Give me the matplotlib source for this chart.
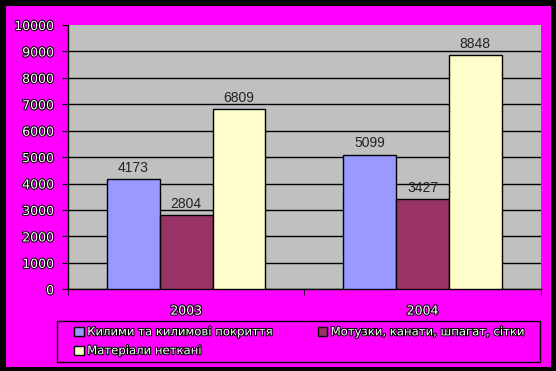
import numpy as np
import matplotlib
matplotlib.use("Agg")
import matplotlib.pyplot as plt
import matplotlib.patheffects as pe
from matplotlib.patches import Rectangle

years = ["2003", "2004"]
series_names = ["Килими та килимов\u0456 покриття", "Мотузки, канати, шпагат, с\u0456тки",
                "Матер\u0456али неткан\u0456"]
carpets = [4173, 5099]
ropes = [2804, 3427]
nonwoven = [6809, 8848]
y_ticks = [0, 1000, 2000, 3000, 4000, 5000, 6000, 7000, 8000, 9000, 10000]

colors = ["#9999FF", "#993366", "#FFFFCC"]
W, H = 556, 371

plt.rcParams["font.family"] = ["DejaVu Sans"]

fig = plt.figure(figsize=(W / 100, H / 100), dpi=100, facecolor="black")
fig.patches.append(Rectangle((6 / W, 4 / H), 545 / W, 361 / H, transform=fig.transFigure,
                             facecolor="#FF00FF", edgecolor="none", zorder=-5))
# legend frame
fig.patches.append(Rectangle((57 / W, (H - 362) / H), 483 / W, 41 / H, transform=fig.transFigure,
                             facecolor="none", edgecolor="black", linewidth=1, zorder=-4))

ax = fig.add_axes([68 / W, (H - 289.3) / H, 472.7 / W, 264.3 / H])
ax.set_facecolor("#C0C0C0")

outline = [pe.withStroke(linewidth=1.5, foreground="black")]

x = np.arange(len(years))
bw = 0.223
for i, (vals, c) in enumerate(zip([carpets, ropes, nonwoven], colors)):
    pos = x + (i - 1) * bw
    ax.bar(pos, vals, width=bw, color=c, edgecolor="black", linewidth=1, zorder=3, label=series_names[i])
    for px, v in zip(pos, vals):
        ax.annotate(str(v), (px, v), xytext=(0, 3), textcoords="offset points",
                    ha="center", va="bottom", fontsize=10, color="#222222", zorder=4,
                    family="Liberation Sans")

ax.set_xlim(-0.5, 1.5)
ax.set_ylim(0, 10000)
ax.set_yticks(y_ticks)
ax.set_yticklabels([str(t) for t in y_ticks])
ax.set_xticks([-0.5, 0.5, 1.5], minor=True)
ax.set_xticks(x)
ax.set_xticklabels(years)
ax.tick_params(axis="x", which="major", length=0, pad=11)
ax.tick_params(axis="x", which="minor", length=4, direction="out", color="black")
ax.tick_params(axis="y", length=4, direction="out", color="black", pad=6)
for lab in ax.get_xticklabels() + ax.get_yticklabels():
    lab.set_fontsize(9)
    lab.set_color("white")
    lab.set_path_effects(outline)

ax.yaxis.grid(True, color="black", linewidth=1, zorder=1)
ax.set_axisbelow(True)
ax.get_ygridlines()[-1].set_visible(False)
for s in ["top", "right"]:
    ax.spines[s].set_visible(False)
for s in ["left", "bottom"]:
    ax.spines[s].set_color("black")
    ax.spines[s].set_linewidth(1)

handles, labels = ax.get_legend_handles_labels()
order = [0, 2, 1]
leg = fig.legend([handles[i] for i in order], [labels[i] for i in order], ncol=2,
                 loc="upper left", bbox_to_anchor=(72 / W, (H - 323) / H),
                 fontsize=8.4, frameon=False,
                 handlelength=0.8, handleheight=0.8, handletextpad=0.3,
                 borderaxespad=0, labelspacing=0.5, borderpad=0.2, columnspacing=3.9)
for t in leg.get_texts():
    t.set_color("white")
    t.set_path_effects(outline)

fig.savefig("out.png", dpi=100, facecolor="black")
